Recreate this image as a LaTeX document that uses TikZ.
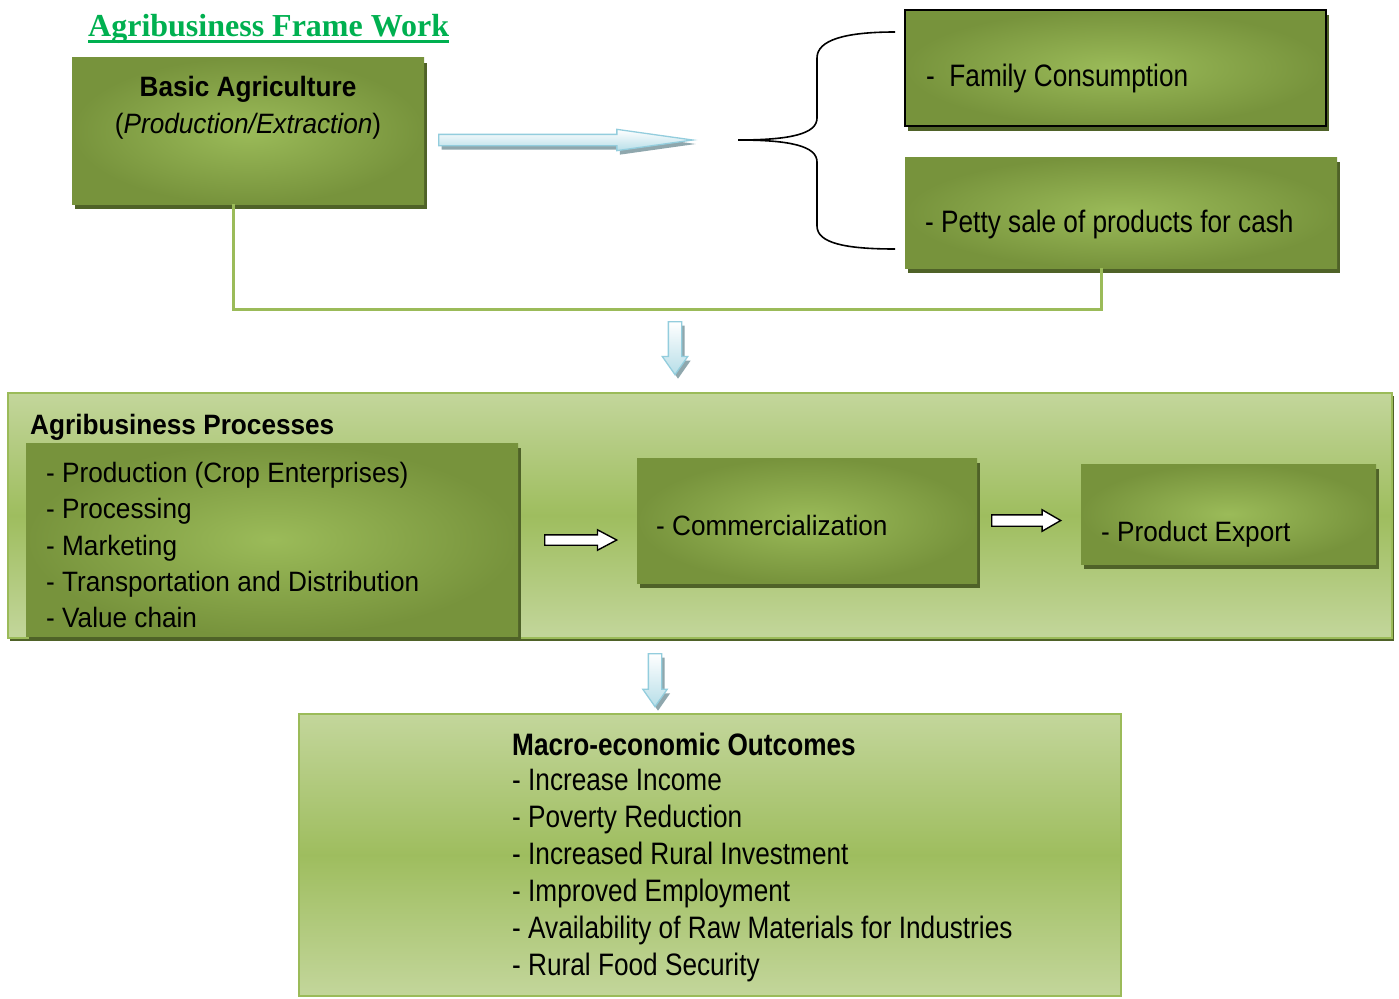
\documentclass[tikz,border=0pt]{standalone}
\usepackage{fontspec}
\setmainfont{Liberation Sans}
\newfontfamily\fa[FakeStretch=0.935]{Liberation Sans}
\newfontfamily\fb[FakeStretch=0.845]{Liberation Sans}
\newfontfamily\ftitle{Liberation Serif}
\usetikzlibrary{shapes.arrows,shadows}
\definecolor{cDarkG}{HTML}{77933C}
\definecolor{cMidG}{HTML}{9BBB59}
\definecolor{cLightG}{HTML}{C3D69B}
\definecolor{cShadow}{HTML}{4F6228}
\definecolor{cLine}{HTML}{9BBB59}
\definecolor{cTitle}{HTML}{00B050}
\definecolor{cBlueEdge}{HTML}{93CDDD}
\definecolor{cBlueFill}{HTML}{B7DEE8}
\definecolor{cBlueShadow}{HTML}{8FA7AD}
\tikzset{
  dbox/.style={rectangle, inner sep=0pt, draw=none, shading=radial,
    inner color=cMidG, outer color=cDarkG,
    drop shadow={shadow xshift=3pt, shadow yshift=-5pt, fill=cShadow, opacity=1}},
  panel/.style={rectangle, inner sep=0pt, draw=cLine, line width=2pt,
    top color=cLightG, bottom color=cLightG, middle color=cMidG!92!cLightG},
  barrow/.style={single arrow, draw=cBlueEdge, line width=1.3pt, inner xsep=0pt,
    top color=white, bottom color=cBlueFill,
    drop shadow={shadow xshift=3pt, shadow yshift=-4pt, fill=cBlueShadow, opacity=1}},
  warrow/.style={single arrow, draw=black, line width=1.4pt, fill=white, inner xsep=0pt},
  conn/.style={draw=cLine, line width=3pt},
  txta/.style={inner sep=0pt, font={\fa\fontsize{28}{34}\selectfont}},
  txtb/.style={inner sep=0pt, font={\fb\fontsize{31}{37}\selectfont}},
}
\begin{document}
\begin{tikzpicture}[x=1pt,y=-1pt]
\useasboundingbox[fill=white] (0,0) rectangle (1399,998);

% title
\node[inner sep=0pt, anchor=base west, text=cTitle,
  font={\ftitle\bfseries\fontsize{32}{38}\selectfont}] (title) at (88,37) {Agribusiness Frame Work};
\draw[cTitle, line width=2.6pt] ([yshift=-4.5pt]title.base west) -- ([yshift=-4.5pt]title.base east);

% connector line (behind boxes)
\coordinate (j1) at (233,309);
\coordinate (j2) at (1101,309);

% top boxes
\node[dbox, minimum width=352pt, minimum height=146pt] (basic) at (248,131) {};
\node[dbox, draw=black, line width=2.5pt, minimum width=421pt, minimum height=116pt] (family) at (1115.5,68) {};
\node[dbox, minimum width=432pt, minimum height=111pt] (petty) at (1121,212.5) {};

\draw[conn] (basic.south -| j1) -- (j1) -- (j2) -- (petty.south -| j2);

\node[txta, anchor=base, font={\fa\bfseries\fontsize{28}{34}\selectfont}] (basict) at (248,96) {Basic Agriculture};
\node[txta, anchor=base] (basict2) at (248,133) {(\textit{Production/Extraction})};
\node[txtb, anchor=base west] (famt) at (926,86) {-\ \ Family Consumption};
\node[txtb, anchor=base west] (pettyt) at (925,232) {- Petty sale of products for cash};

% big blue arrow
\node[barrow, anchor=tail, minimum height=254pt, minimum width=20pt, inner ysep=5pt,
  single arrow head extend=5pt, single arrow tip angle=16] (ba1) at (438,140) {};

% brace
\draw[black, line width=1.6pt] (895,32) .. controls (845,32) and (817,40) .. (817,58)
  -- (817,118) .. controls (817,134) and (790,140) .. (738,140)
  .. controls (790,140) and (817,146) .. (817,162)
  -- (817,226) .. controls (817,243) and (845,249) .. (895,249);

% down arrow 1
\node[barrow, rotate=-90, anchor=tail, minimum height=53pt, minimum width=24pt, inner ysep=6pt,
  single arrow head extend=6pt, single arrow tip angle=70] (da1) at (675,321) {};

% processes panel
\node[panel, minimum width=1384pt, minimum height=245pt,
  drop shadow={shadow xshift=2pt, shadow yshift=-3pt, fill=cShadow, opacity=1}] (procs) at (700,515.5) {};
\node[txta, anchor=base west, font={\fa\bfseries\fontsize{28}{34}\selectfont}] (procst) at (30,434) {Agribusiness Processes};
\node[dbox, minimum width=492pt, minimum height=193pt] (list) at (272,539.5) {};
\foreach \t [count=\i] in {- Production (Crop Enterprises), - Processing, - Marketing, - Transportation and Distribution, - Value chain}
  \node[txta, anchor=base west] (p\i) at (46,{482.7+36.2*(\i-1)}) {\t};
\node[dbox, minimum width=340pt, minimum height=125pt] (comm) at (807,520.5) {};
\node[txta, anchor=base west] (commt) at (656,535) {- Commercialization};
\node[dbox, minimum width=295pt, minimum height=100pt] (export) at (1228.5,514) {};
\node[txta, anchor=base west] (exportt) at (1101,541) {- Product Export};

\node[warrow, anchor=tail, minimum height=72pt, minimum width=19pt, inner ysep=4.5pt,
  single arrow head extend=5pt, single arrow tip angle=56] (wa1) at (544,540) {};
\node[warrow, anchor=tail, minimum height=69pt, minimum width=20pt, inner ysep=5pt,
  single arrow head extend=5pt, single arrow tip angle=60] (wa2) at (991,520.5) {};

% down arrow 2
\node[barrow, rotate=-90, anchor=tail, minimum height=53pt, minimum width=23pt, inner ysep=6pt,
  single arrow head extend=5.5pt, single arrow tip angle=70] (da2) at (655,653) {};

% outcomes panel
\node[panel, minimum width=822pt, minimum height=282pt] (outc) at (710,855) {};
\node[txtb, anchor=base west, font={\fb\bfseries\fontsize{31}{37}\selectfont}] (outct) at (512,755) {Macro-economic Outcomes};
\foreach \t [count=\i] in {- Increase Income, - Poverty Reduction, - Increased Rural Investment, - Improved Employment, - Availability of Raw Materials for Industries, - Rural Food Security}
  \node[txtb, anchor=base west] (o\i) at (512,{790.7+36.86*(\i-1)}) {\t};
\end{tikzpicture}
\end{document}
